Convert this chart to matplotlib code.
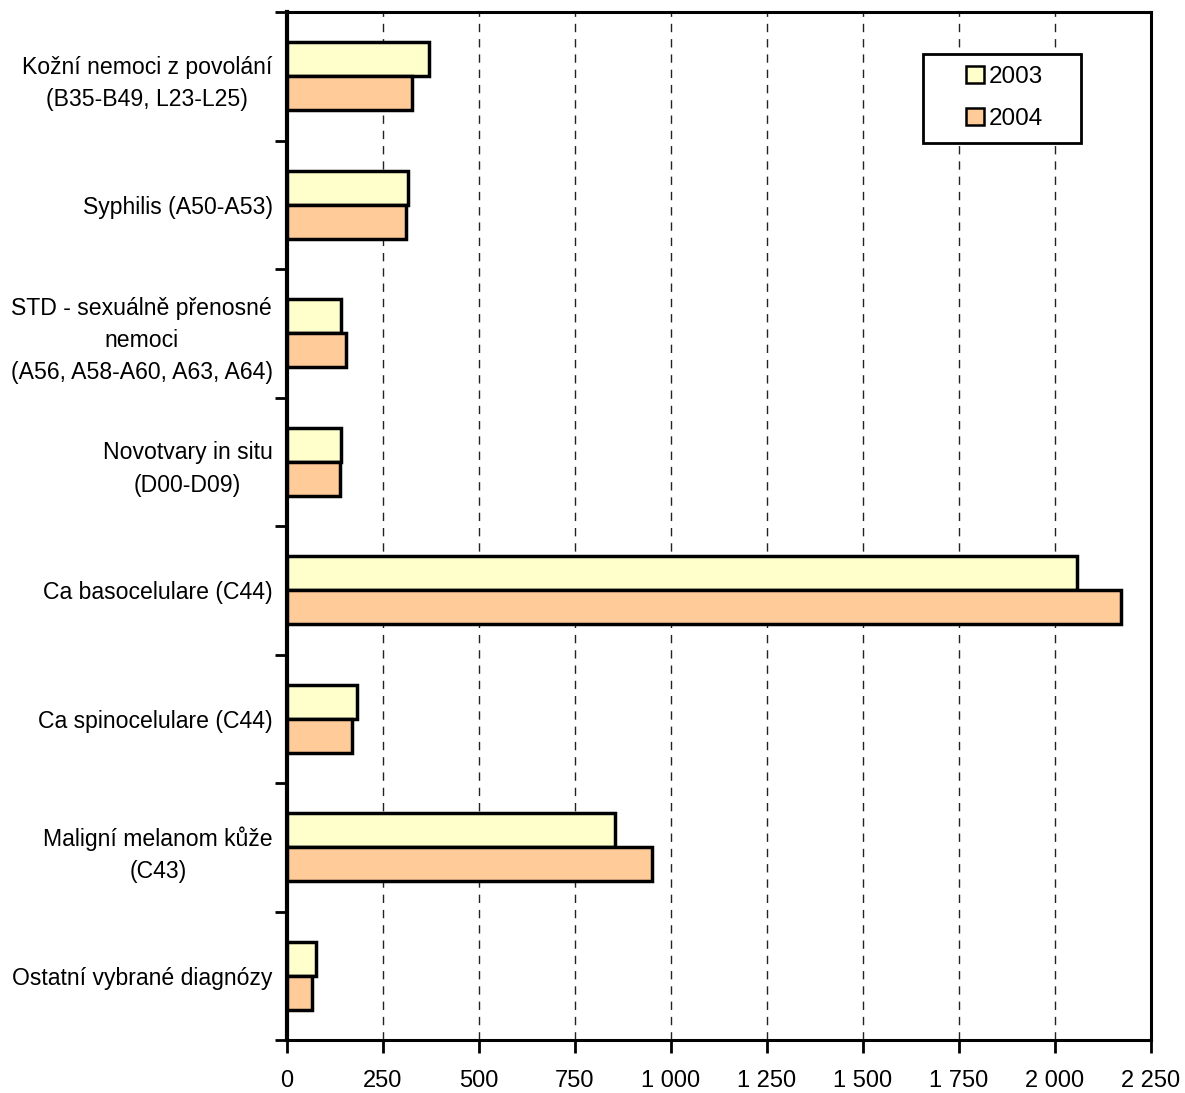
import matplotlib
matplotlib.use("Agg")
import matplotlib.pyplot as plt
import numpy as np
from matplotlib.patches import Patch, Rectangle

categories = [
    "Kožní nemoci z povolání\n(B35-B49, L23-L25)",
    "Syphilis (A50-A53)",
    "STD - sexuálně přenosné\nnemoci\n(A56, A58-A60, A63, A64)",
    "Novotvary in situ\n(D00-D09)",
    "Ca basocelulare (C44)",
    "Ca spinocelulare (C44)",
    "Maligní melanom kůže\n(C43)",
    "Ostatní vybrané diagnózy",
]
values_2003 = [370, 315, 141, 143, 2057, 184, 855, 77]
values_2004 = [326, 310, 156, 138, 2172, 170, 952, 66]
series_labels = ["2003", "2004"]
xticks = [0, 250, 500, 750, 1000, 1250, 1500, 1750, 2000, 2250]
xtick_labels = ["0", "250", "500", "750", "1 000", "1 250", "1 500", "1 750", "2 000", "2 250"]

plt.rcParams['font.family'] = ['Liberation Sans Narrow', 'Liberation Sans', 'DejaVu Sans']

W, H = 1185, 1093
fig = plt.figure(figsize=(W / 100, H / 100), dpi=100)
x0, x1, y0, y1 = 286.5, 1151, 12, 1040
ax = fig.add_axes([x0 / W, 1 - y1 / H, (x1 - x0) / W, (y1 - y0) / H])

n = len(categories)
y = np.arange(n)
h = 0.265
c2003 = "#FFFFCC"
c2004 = "#FFCC99"
ax.barh(y - h / 2, values_2003, height=h, color=c2003, edgecolor="black", linewidth=2.5, zorder=3)
ax.barh(y + h / 2, values_2004, height=h, color=c2004, edgecolor="black", linewidth=2.5, zorder=3)

ax.set_xlim(0, 2250)
ax.set_ylim(n - 0.5, -0.5)

ax.set_xticks(xticks)
ax.set_xticklabels(xtick_labels, fontsize=17)
ax.set_yticks(y)
ax.set_yticklabels(categories, fontsize=16.6, multialignment="center", linespacing=1.52)
ax.tick_params(axis="y", which="major", length=0, pad=10)
ax.set_yticks(np.arange(n + 1) - 0.5, minor=True)
ax.tick_params(axis="y", which="minor", length=9, width=2, direction="out")
ax.tick_params(axis="x", which="major", length=9, width=2, direction="out", pad=12.5)

for xv in xticks[1:-1]:
    ax.axvline(xv, color="#222222", linestyle=(0, (6, 5)), linewidth=1.0, zorder=1)

for s in ax.spines.values():
    s.set_linewidth(2.2)
    s.set_color("black")
ax.spines["left"].set_linewidth(3)

# legend box (frame drawn separately to match asymmetric padding)
def fx(px):
    return (px - x0) / (x1 - x0)

def fy(py):
    return 1 - (py - y0) / (y1 - y0)

box = Rectangle((fx(923), fy(143)), fx(1081) - fx(923), fy(54) - fy(143),
                transform=ax.transAxes, facecolor="white", edgecolor="black",
                linewidth=2, zorder=5)
ax.add_patch(box)

handles = [Patch(facecolor=c2003, edgecolor="black", linewidth=1.8),
           Patch(facecolor=c2004, edgecolor="black", linewidth=1.8)]
leg = ax.legend(handles, series_labels, loc="upper left",
                bbox_to_anchor=(fx(966), fy(66)),
                fontsize=17.5, frameon=False,
                handlelength=0.72, handleheight=0.72, handletextpad=0.22,
                borderpad=0, labelspacing=0.8, borderaxespad=0)
leg.set_zorder(6)

fig.savefig("out.png", dpi=100)
